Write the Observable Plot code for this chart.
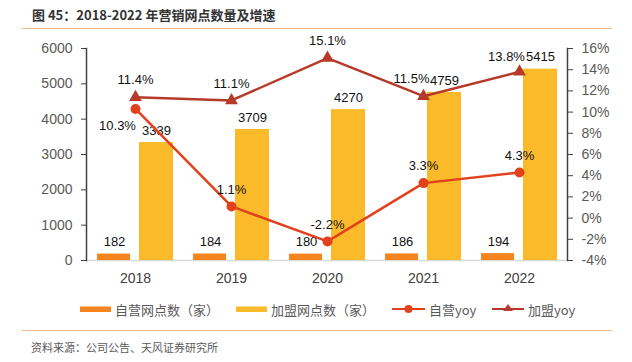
<!DOCTYPE html>
<html><head><meta charset="utf-8">
<script src="https://cdn.jsdelivr.net/npm/d3@7"></script>
<script src="https://cdn.jsdelivr.net/npm/@observablehq/plot@0.6"></script>
<style>
body{margin:0;background:#fff;width:632px;height:362px;position:relative;overflow:hidden;font-family:"Liberation Sans",Arial,sans-serif;}
#title{position:absolute;left:32px;top:6px;font-family:"Noto Sans CJK SC",sans-serif;font-weight:bold;font-size:13px;color:#333;line-height:18px;}
.hr{position:absolute;left:22px;width:590px;height:0;border-top:1.5px solid #F6B888;}
#chart{position:absolute;left:0;top:30px;}
#legend{position:absolute;left:0;top:299px;width:632px;height:20px;}
.li{position:absolute;top:0;height:20px;display:flex;align-items:center;font-family:"Noto Sans CJK SC",sans-serif;font-size:13px;color:#595959;white-space:nowrap;}
.li svg{margin-right:4px;}
#source{position:absolute;left:31px;top:339px;font-family:"Noto Sans CJK SC",sans-serif;font-size:11px;color:#595959;line-height:16px;}
</style></head>
<body>
<div id="title">图 45：2018-2022 年营销网点数量及增速</div>
<div class="hr" style="top:28px"></div>
<div id="chart"></div>
<div id="legend"></div>
<div class="hr" style="top:330px"></div>
<div id="source">资料来源：公司公告、天风证券研究所</div>
<script>
const years = ["2018","2019","2020","2021","2022"];
const selfStores = [182,184,180,186,194];
const franchiseStores = [3339,3709,4270,4759,5415];
const selfYoy = [10.3,1.1,-2.2,3.3,4.3];
const franchiseYoy = [11.4,11.1,15.1,11.5,13.8];
const leftTicks = [0,1000,2000,3000,4000,5000,6000];
const rightTicks = [-4,-2,0,2,4,6,8,10,12,14,16];
const seriesNames = ["自营网点数（家）","加盟网点数（家）","自营yoy","加盟yoy"];
const colors = ["#F5841F","#FABA2A","#E2411D","#B63A2A"];

const leftMax = 6000, rMin = -4, rMax = 16;
const toLeft = p => (p - rMin) / (rMax - rMin) * leftMax;
const fromLeft = v => v / leftMax * (rMax - rMin) + rMin;

const data = years.map((y,i)=>({year:y, self:selfStores[i], fr:franchiseStores[i], syoy:selfYoy[i], fyoy:franchiseYoy[i], i}));
const fmtPct = v => v.toFixed(1) + "%";

const chart = Plot.plot({
  width: 632, height: 265,
  marginTop: 18, marginBottom: 35, marginLeft: 86, marginRight: 65,
  style: {fontFamily: '"Liberation Sans", Arial, sans-serif', fontSize: "13px", background: "transparent"},
  x: {domain: years, padding: 0, axis: null, label: null},
  y: {domain: [0, leftMax], axis: null, label: null},
  marks: [
    Plot.ruleY([0], {stroke: "#D9D9D9", strokeWidth: 1.5}),
    Plot.barY(data, {x: "year", y: "self", fill: colors[0], insetLeft: 10, insetRight: 53}),
    Plot.barY(data, {x: "year", y: "fr", fill: colors[1], insetLeft: 52, insetRight: 10}),
    Plot.text(data, {x: "year", y: "self", text: d => String(d.self), dx: -21, dy: -12, fill: "#111", fontSize: 13}),
    Plot.text(data, {x: "year", y: "fr", text: d => String(d.fr), dx: 21, dy: -12, fill: "#111", fontSize: 13}),
    Plot.line(data, {x: "year", y: d => toLeft(d.fyoy), stroke: colors[3], strokeWidth: 2.5}),
    Plot.dot(data, {x: "year", y: d => toLeft(d.fyoy), symbol: "triangle", r: 4.8, fill: colors[3], stroke: "none"}),
    Plot.line(data, {x: "year", y: d => toLeft(d.syoy), stroke: colors[2], strokeWidth: 2.5}),
    Plot.dot(data, {x: "year", y: d => toLeft(d.syoy), r: 5, fill: colors[2], stroke: "none"}),
    Plot.text(data.filter(d => d.i < 3), {x: "year", y: d => toLeft(d.fyoy), text: d => fmtPct(d.fyoy), dy: -17, fill: "#111", fontSize: 13}),
    Plot.text(data.filter(d => d.i === 3), {x: "year", y: d => toLeft(d.fyoy), text: d => fmtPct(d.fyoy), dx: -12, dy: -17, fill: "#111", fontSize: 13}),
    Plot.text(data.filter(d => d.i === 4), {x: "year", y: d => toLeft(d.fyoy), text: d => fmtPct(d.fyoy), dx: -13, dy: -15, fill: "#111", fontSize: 13}),
    Plot.text(data.filter(d => d.i > 0), {x: "year", y: d => toLeft(d.syoy), text: d => fmtPct(d.syoy), dy: -17, fill: "#111", fontSize: 13}),
    Plot.text(data.filter(d => d.i === 0), {x: "year", y: d => toLeft(d.syoy), text: d => fmtPct(d.syoy), dx: -18, dy: 17, fill: "#111", fontSize: 13}),
    Plot.axisX({tickSize: 0, tickPadding: 13, fontSize: 14, color: "#404040", label: null}),
    Plot.frame({anchor: "left", stroke: "#404040", strokeWidth: 1.5}),
    Plot.frame({anchor: "right", stroke: "#404040", strokeWidth: 1.5}),
    Plot.axisY({anchor: "left", ticks: leftTicks, tickFormat: d => String(d), tickSize: 5, tickPadding: 9, fontSize: 14, color: "#595959", stroke: "#404040", label: null}),
    Plot.axisY({anchor: "right", ticks: rightTicks.map(toLeft), tickFormat: v => Math.round(fromLeft(v)) + "%", tickSize: 5, tickPadding: 9, fontSize: 14, color: "#595959", stroke: "#404040", label: null})
  ]
});
document.getElementById("chart").appendChild(chart);

// legend
const legend = document.getElementById("legend");
const legendX = [80, 236, 392, 492];
seriesNames.forEach((name, k) => {
  const item = document.createElement("div");
  item.className = "li";
  item.style.left = legendX[k] + "px";
  let sw;
  if (k < 2) {
    sw = `<svg width="31" height="20"><rect x="0" y="7.5" width="31" height="5.5" fill="${colors[k]}"/></svg>`;
  } else if (k === 2) {
    sw = `<svg width="33" height="20"><line x1="0" y1="10" x2="33" y2="10" stroke="${colors[k]}" stroke-width="2"/><circle cx="16.5" cy="10" r="4" fill="${colors[k]}"/></svg>`;
  } else {
    sw = `<svg width="32" height="20"><line x1="0" y1="10" x2="32" y2="10" stroke="${colors[k]}" stroke-width="2"/><path d="M16,5 L21,12 L11,12 Z" fill="${colors[k]}"/></svg>`;
  }
  item.innerHTML = sw + `<span>${name}</span>`;
  legend.appendChild(item);
});
</script>
</body></html>
